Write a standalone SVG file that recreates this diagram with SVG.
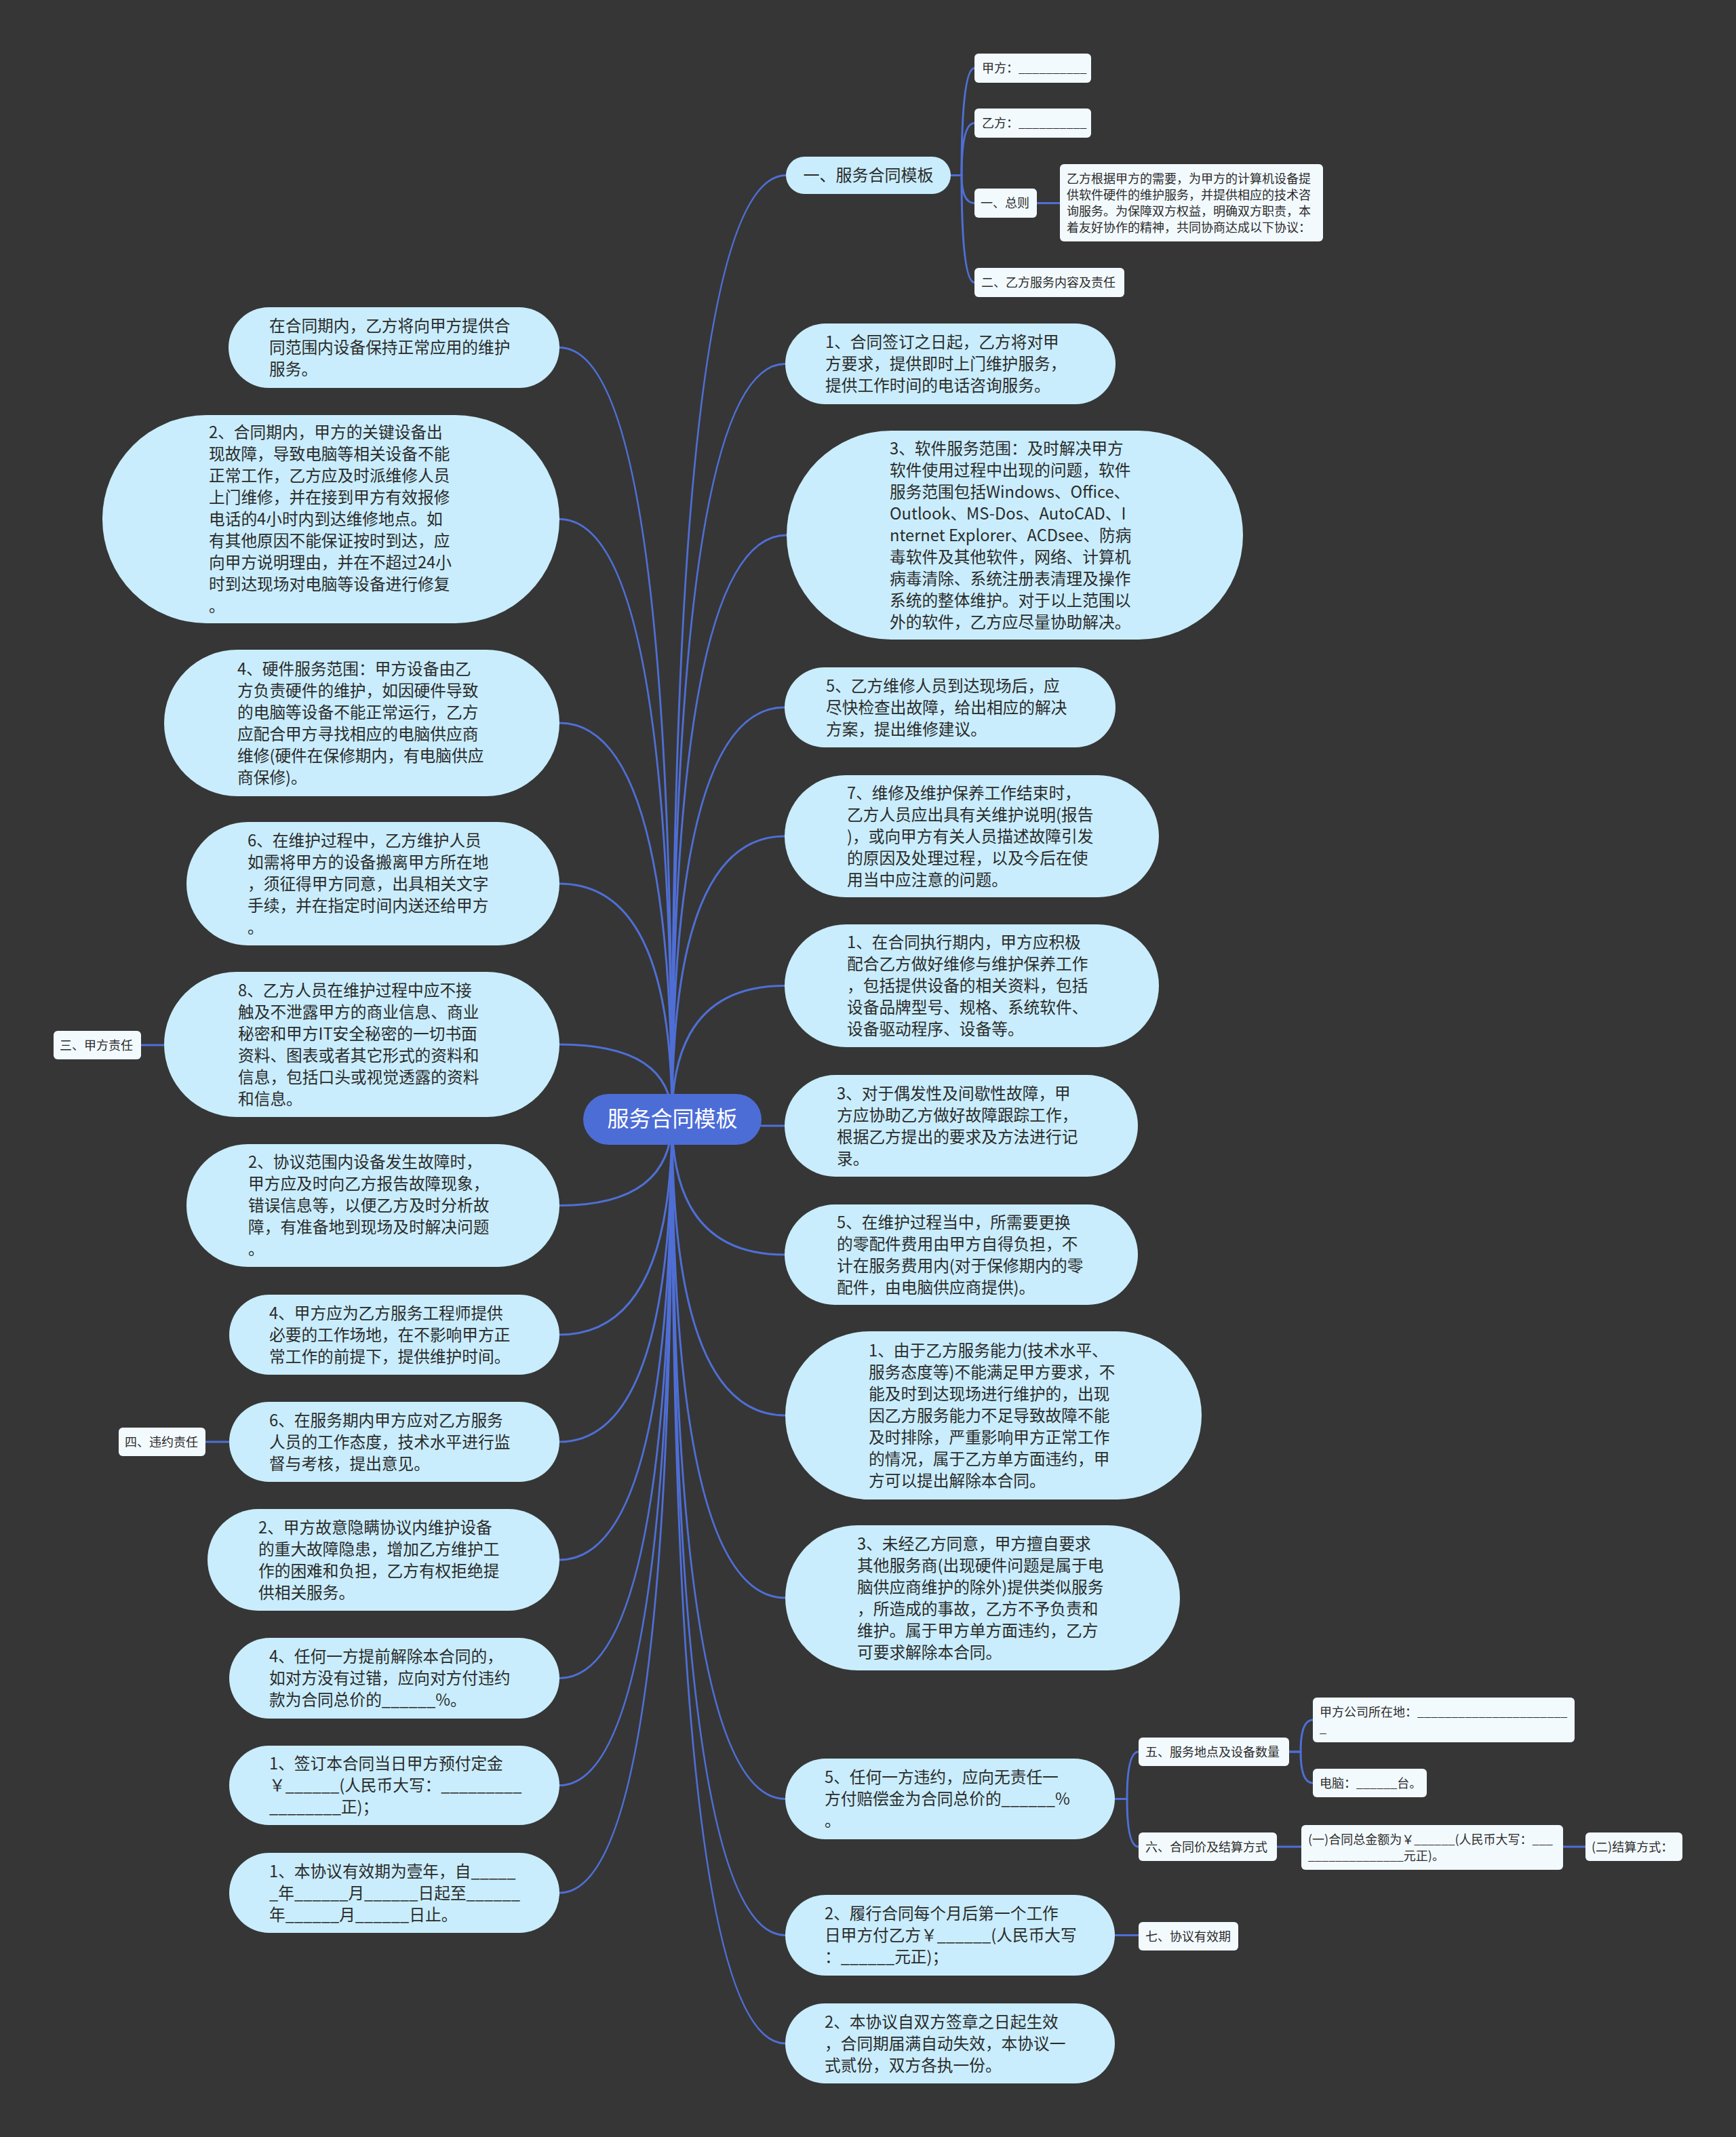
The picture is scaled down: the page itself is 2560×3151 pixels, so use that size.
<svg xmlns="http://www.w3.org/2000/svg" width="2560" height="3151" viewBox="0 0 2560 3151">
<style>
.pill{fill:#C9EDFC}
.small{fill:#F3FAFE}
.t{font-family:"Noto Sans CJK SC","Noto Sans",sans-serif;font-size:23.7px;fill:#2b2b2b}
.ts{font-family:"Noto Sans CJK SC","Noto Sans",sans-serif;font-size:18px;fill:#2b2b2b}
.ln{fill:none;stroke:#4F6FD6;stroke-width:3}
</style>
<rect x="0" y="0" width="2560" height="3151" fill="#363636"/>
<g id="connectors">
<path class="ln" d="M991 1650 Q991 258.5 1159 258.5"/>
<path class="ln" d="M991 1650 Q991 536.5 1158 536.5"/>
<path class="ln" d="M991 1650 Q991 789 1160 789"/>
<path class="ln" d="M991 1650 Q991 1043 1157 1043"/>
<path class="ln" d="M991 1650 Q991 1233 1157 1233"/>
<path class="ln" d="M991 1650 Q991 1453.5 1157 1453.5"/>
<path class="ln" d="M991 1650 Q991 1660 1157 1660"/>
<path class="ln" d="M991 1650 Q991 1850 1157 1850"/>
<path class="ln" d="M991 1650 Q991 2087 1158 2087"/>
<path class="ln" d="M991 1650 Q991 2356 1158 2356"/>
<path class="ln" d="M991 1650 Q991 2652.5 1158 2652.5"/>
<path class="ln" d="M991 1650 Q991 2853.5 1158 2853.5"/>
<path class="ln" d="M991 1650 Q991 3013 1158 3013"/>
<path class="ln" d="M991 1650 Q991 512.5 825 512.5"/>
<path class="ln" d="M991 1650 Q991 765.5 825 765.5"/>
<path class="ln" d="M991 1650 Q991 1066 825 1066"/>
<path class="ln" d="M991 1650 Q991 1303 825 1303"/>
<path class="ln" d="M991 1650 Q991 1540 825 1540"/>
<path class="ln" d="M991 1650 Q991 1777.5 825 1777.5"/>
<path class="ln" d="M991 1650 Q991 1968 825 1968"/>
<path class="ln" d="M991 1650 Q991 2126 825 2126"/>
<path class="ln" d="M991 1650 Q991 2300 825 2300"/>
<path class="ln" d="M991 1650 Q991 2474.5 825 2474.5"/>
<path class="ln" d="M991 1650 Q991 2632.5 825 2632.5"/>
<path class="ln" d="M991 1650 Q991 2791 825 2791"/>
<path class="ln" d="M1402 258.5 H1418 Q1418 100.5 1437 100.5"/>
<path class="ln" d="M1402 258.5 H1418 Q1418 181.5 1437 181.5"/>
<path class="ln" d="M1402 258.5 H1418 Q1418 299.5 1437 299.5"/>
<path class="ln" d="M1402 258.5 H1418 Q1418 416.5 1437 416.5"/>
<path class="ln" d="M1529 299.5 H1563"/>
<path class="ln" d="M1644 2652.5 H1662 Q1662 2583 1679 2583"/>
<path class="ln" d="M1644 2652.5 H1662 Q1662 2723 1679 2723"/>
<path class="ln" d="M1901 2583 H1918 Q1918 2536 1936 2536"/>
<path class="ln" d="M1901 2583 H1918 Q1918 2629 1936 2629"/>
<path class="ln" d="M1883 2723 H1919"/>
<path class="ln" d="M2305 2723 H2338"/>
<path class="ln" d="M1644 2853.5 H1679"/>
<path class="ln" d="M208 1541 H242"/>
<path class="ln" d="M303 2126 H338"/>
</g>
<g id="root">
<rect x="860" y="1613" width="263" height="75" rx="37.5" fill="#4D6DD6"/>
<text x="991.5" y="1661" text-anchor="middle" font-family="Noto Sans CJK SC, sans-serif" font-size="32" fill="#ffffff">服务合同模板</text>
</g>
<g id="r0">
<rect class="pill" x="1159" y="231" width="243" height="55" rx="27.5"/>
<text class="t" x="1280.5" y="267" text-anchor="middle" style="font-size:24px">一、服务合同模板</text>
</g>
<g id="s-jia"><rect class="small" x="1437" y="79" width="172" height="43" rx="6"/><text class="ts" x="1448" y="107">甲方：__________</text></g>
<g id="s-yi"><rect class="small" x="1437" y="160" width="172" height="43" rx="6"/><text class="ts" x="1448" y="188">乙方：__________</text></g>
<g id="s-zongze"><rect class="small" x="1437" y="278" width="92" height="43" rx="6"/><text class="ts" x="1446" y="306">一、总则</text></g>
<g id="s-zongze-text"><rect class="small" x="1563" y="242" width="388" height="114" rx="6"/>
<text class="ts" x="1573" y="269.5"><tspan x="1573">乙方根据甲方的需要，为甲方的计算机设备提</tspan><tspan x="1573" dy="24">供软件硬件的维护服务，并提供相应的技术咨</tspan><tspan x="1573" dy="24">询服务。为保障双方权益，明确双方职责，本</tspan><tspan x="1573" dy="24">着友好协作的精神，共同协商达成以下协议：</tspan></text></g>
<g id="s-er"><rect class="small" x="1437" y="395" width="221" height="43" rx="6"/><text class="ts" x="1447" y="423">二、乙方服务内容及责任</text></g>
<g id="r1"><rect class="pill" x="1158" y="477" width="487" height="119" rx="59.5"/>
<text class="t" y="513"><tspan x="1217">1、合同签订之日起，乙方将对甲</tspan><tspan x="1217" dy="32">方要求，提供即时上门维护服务，</tspan><tspan x="1217" dy="32">提供工作时间的电话咨询服务。</tspan></text></g>
<g id="r2"><rect class="pill" x="1160" y="635" width="673" height="308" rx="154"/>
<text class="t" y="669.5"><tspan x="1312">3、软件服务范围：及时解决甲方</tspan><tspan x="1312" dy="32">软件使用过程中出现的问题，软件</tspan><tspan x="1312" dy="32">服务范围包括Windows、Office、</tspan><tspan x="1312" dy="32">Outlook、MS-Dos、AutoCAD、I</tspan><tspan x="1312" dy="32">nternet Explorer、ACDsee、防病</tspan><tspan x="1312" dy="32">毒软件及其他软件，网络、计算机</tspan><tspan x="1312" dy="32">病毒清除、系统注册表清理及操作</tspan><tspan x="1312" dy="32">系统的整体维护。对于以上范围以</tspan><tspan x="1312" dy="32">外的软件，乙方应尽量协助解决。</tspan></text></g>
<g id="r3"><rect class="pill" x="1157" y="984" width="488" height="118" rx="59"/>
<text class="t" y="1019.5"><tspan x="1218">5、乙方维修人员到达现场后，应</tspan><tspan x="1218" dy="32">尽快检查出故障，给出相应的解决</tspan><tspan x="1218" dy="32">方案，提出维修建议。</tspan></text></g>
<g id="r4"><rect class="pill" x="1157" y="1143" width="552" height="180" rx="90"/>
<text class="t" y="1177.5"><tspan x="1249">7、维修及维护保养工作结束时，</tspan><tspan x="1249" dy="32">乙方人员应出具有关维护说明(报告</tspan><tspan x="1249" dy="32">)，或向甲方有关人员描述故障引发</tspan><tspan x="1249" dy="32">的原因及处理过程，以及今后在使</tspan><tspan x="1249" dy="32">用当中应注意的问题。</tspan></text></g>
<g id="r5"><rect class="pill" x="1157" y="1363" width="552" height="181" rx="90.5"/>
<text class="t" y="1398"><tspan x="1249">1、在合同执行期内，甲方应积极</tspan><tspan x="1249" dy="32">配合乙方做好维修与维护保养工作</tspan><tspan x="1249" dy="32">，包括提供设备的相关资料，包括</tspan><tspan x="1249" dy="32">设备品牌型号、规格、系统软件、</tspan><tspan x="1249" dy="32">设备驱动程序、设备等。</tspan></text></g>
<g id="r6"><rect class="pill" x="1157" y="1585" width="521" height="150" rx="75"/>
<text class="t" y="1620.5"><tspan x="1234">3、对于偶发性及间歇性故障，甲</tspan><tspan x="1234" dy="32">方应协助乙方做好故障跟踪工作，</tspan><tspan x="1234" dy="32">根据乙方提出的要求及方法进行记</tspan><tspan x="1234" dy="32">录。</tspan></text></g>
<g id="r7"><rect class="pill" x="1157" y="1776" width="521" height="148" rx="74"/>
<text class="t" y="1810.5"><tspan x="1234">5、在维护过程当中，所需要更换</tspan><tspan x="1234" dy="32">的零配件费用由甲方自得负担，不</tspan><tspan x="1234" dy="32">计在服务费用内(对于保修期内的零</tspan><tspan x="1234" dy="32">配件，由电脑供应商提供)。</tspan></text></g>
<g id="r8"><rect class="pill" x="1158" y="1963" width="614" height="248" rx="124"/>
<text class="t" y="1999.5"><tspan x="1281">1、由于乙方服务能力(技术水平、</tspan><tspan x="1281" dy="32">服务态度等)不能满足甲方要求，不</tspan><tspan x="1281" dy="32">能及时到达现场进行维护的，出现</tspan><tspan x="1281" dy="32">因乙方服务能力不足导致故障不能</tspan><tspan x="1281" dy="32">及时排除，严重影响甲方正常工作</tspan><tspan x="1281" dy="32">的情况，属于乙方单方面违约，甲</tspan><tspan x="1281" dy="32">方可以提出解除本合同。</tspan></text></g>
<g id="r9"><rect class="pill" x="1158" y="2249" width="582" height="214" rx="107"/>
<text class="t" y="2284.5"><tspan x="1264">3、未经乙方同意，甲方擅自要求</tspan><tspan x="1264" dy="32">其他服务商(出现硬件问题是属于电</tspan><tspan x="1264" dy="32">脑供应商维护的除外)提供类似服务</tspan><tspan x="1264" dy="32">，所造成的事故，乙方不予负责和</tspan><tspan x="1264" dy="32">维护。属于甲方单方面违约，乙方</tspan><tspan x="1264" dy="32">可要求解除本合同。</tspan></text></g>
<g id="r10"><rect class="pill" x="1158" y="2593" width="486" height="119" rx="59.5"/>
<text class="t" y="2629"><tspan x="1216">5、任何一方违约，应向无责任一</tspan><tspan x="1216" dy="32">方付赔偿金为合同总价的______%</tspan><tspan x="1216" dy="32">。</tspan></text></g>
<g id="s-wu"><rect class="small" x="1679" y="2562" width="222" height="42" rx="6"/><text class="ts" x="1689" y="2589.5">五、服务地点及设备数量</text></g>
<g id="s-addr"><rect class="small" x="1936" y="2503" width="386" height="66" rx="6"/>
<text class="ts" y="2530.5"><tspan x="1946">甲方公司所在地：______________________</tspan><tspan x="1946" dy="24">_</tspan></text></g>
<g id="s-pc"><rect class="small" x="1936" y="2608" width="168" height="42" rx="6"/><text class="ts" x="1946" y="2635.5">电脑：______台。</text></g>
<g id="s-liu"><rect class="small" x="1679" y="2702" width="204" height="42" rx="6"/><text class="ts" x="1689" y="2729.5">六、合同价及结算方式</text></g>
<g id="s-yi1"><rect class="small" x="1919" y="2691" width="386" height="66" rx="6"/>
<text class="ts" y="2718.5"><tspan x="1929">(一)合同总金额为￥______(人民币大写：___</tspan><tspan x="1929" dy="24">______________元正)。</tspan></text></g>
<g id="s-er2"><rect class="small" x="2338" y="2702" width="143" height="42" rx="6"/><text class="ts" x="2347" y="2729.5">(二)结算方式：</text></g>
<g id="r11"><rect class="pill" x="1158" y="2794" width="486" height="119" rx="59.5"/>
<text class="t" y="2830"><tspan x="1216">2、履行合同每个月后第一个工作</tspan><tspan x="1216" dy="32">日甲方付乙方￥______(人民币大写</tspan><tspan x="1216" dy="32">：______元正)；</tspan></text></g>
<g id="s-qi"><rect class="small" x="1679" y="2834" width="147" height="42" rx="6"/><text class="ts" x="1689" y="2861.5">七、协议有效期</text></g>
<g id="r12"><rect class="pill" x="1158" y="2954" width="486" height="118" rx="59"/>
<text class="t" y="2989.5"><tspan x="1216">2、本协议自双方签章之日起生效</tspan><tspan x="1216" dy="32">，合同期届满自动失效，本协议一</tspan><tspan x="1216" dy="32">式贰份，双方各执一份。</tspan></text></g>
<g id="l1"><rect class="pill" x="337" y="453" width="488" height="119" rx="59.5"/>
<text class="t" y="489"><tspan x="397">在合同期内，乙方将向甲方提供合</tspan><tspan x="397" dy="32">同范围内设备保持正常应用的维护</tspan><tspan x="397" dy="32">服务。</tspan></text></g>
<g id="l2"><rect class="pill" x="151" y="612" width="674" height="307" rx="153.5"/>
<text class="t" y="646"><tspan x="308">2、合同期内，甲方的关键设备出</tspan><tspan x="308" dy="32">现故障，导致电脑等相关设备不能</tspan><tspan x="308" dy="32">正常工作，乙方应及时派维修人员</tspan><tspan x="308" dy="32">上门维修，并在接到甲方有效报修</tspan><tspan x="308" dy="32">电话的4小时内到达维修地点。如</tspan><tspan x="308" dy="32">有其他原因不能保证按时到达，应</tspan><tspan x="308" dy="32">向甲方说明理由，并在不超过24小</tspan><tspan x="308" dy="32">时到达现场对电脑等设备进行修复</tspan><tspan x="308" dy="32">。</tspan></text></g>
<g id="l3"><rect class="pill" x="242" y="958" width="583" height="216" rx="108"/>
<text class="t" y="994.5"><tspan x="350">4、硬件服务范围：甲方设备由乙</tspan><tspan x="350" dy="32">方负责硬件的维护，如因硬件导致</tspan><tspan x="350" dy="32">的电脑等设备不能正常运行，乙方</tspan><tspan x="350" dy="32">应配合甲方寻找相应的电脑供应商</tspan><tspan x="350" dy="32">维修(硬件在保修期内，有电脑供应</tspan><tspan x="350" dy="32">商保修)。</tspan></text></g>
<g id="l4"><rect class="pill" x="275" y="1212" width="550" height="182" rx="91"/>
<text class="t" y="1247.5"><tspan x="365">6、在维护过程中，乙方维护人员</tspan><tspan x="365" dy="32">如需将甲方的设备搬离甲方所在地</tspan><tspan x="365" dy="32">，须征得甲方同意，出具相关文字</tspan><tspan x="365" dy="32">手续，并在指定时间内送还给甲方</tspan><tspan x="365" dy="32">。</tspan></text></g>
<g id="l5"><rect class="pill" x="242" y="1433" width="583" height="214" rx="107"/>
<text class="t" y="1468.5"><tspan x="351">8、乙方人员在维护过程中应不接</tspan><tspan x="351" dy="32">触及不泄露甲方的商业信息、商业</tspan><tspan x="351" dy="32">秘密和甲方IT安全秘密的一切书面</tspan><tspan x="351" dy="32">资料、图表或者其它形式的资料和</tspan><tspan x="351" dy="32">信息，包括口头或视觉透露的资料</tspan><tspan x="351" dy="32">和信息。</tspan></text></g>
<g id="s-san"><rect class="small" x="79" y="1520" width="129" height="42" rx="6"/><text class="ts" x="88" y="1547.5">三、甲方责任</text></g>
<g id="l6"><rect class="pill" x="275" y="1687" width="550" height="181" rx="90.5"/>
<text class="t" y="1722"><tspan x="366">2、协议范围内设备发生故障时，</tspan><tspan x="366" dy="32">甲方应及时向乙方报告故障现象，</tspan><tspan x="366" dy="32">错误信息等，以便乙方及时分析故</tspan><tspan x="366" dy="32">障，有准备地到现场及时解决问题</tspan><tspan x="366" dy="32">。</tspan></text></g>
<g id="l7"><rect class="pill" x="338" y="1909" width="487" height="118" rx="59"/>
<text class="t" y="1944.5"><tspan x="397">4、甲方应为乙方服务工程师提供</tspan><tspan x="397" dy="32">必要的工作场地，在不影响甲方正</tspan><tspan x="397" dy="32">常工作的前提下，提供维护时间。</tspan></text></g>
<g id="l8"><rect class="pill" x="338" y="2067" width="487" height="118" rx="59"/>
<text class="t" y="2102.5"><tspan x="397">6、在服务期内甲方应对乙方服务</tspan><tspan x="397" dy="32">人员的工作态度，技术水平进行监</tspan><tspan x="397" dy="32">督与考核，提出意见。</tspan></text></g>
<g id="s-si"><rect class="small" x="175" y="2105" width="128" height="42" rx="6"/><text class="ts" x="184" y="2132.5">四、违约责任</text></g>
<g id="l9"><rect class="pill" x="306" y="2225" width="519" height="150" rx="75"/>
<text class="t" y="2260.5"><tspan x="381">2、甲方故意隐瞒协议内维护设备</tspan><tspan x="381" dy="32">的重大故障隐患，增加乙方维护工</tspan><tspan x="381" dy="32">作的困难和负担，乙方有权拒绝提</tspan><tspan x="381" dy="32">供相关服务。</tspan></text></g>
<g id="l10"><rect class="pill" x="338" y="2415" width="487" height="119" rx="59.5"/>
<text class="t" y="2451"><tspan x="397">4、任何一方提前解除本合同的，</tspan><tspan x="397" dy="32">如对方没有过错，应向对方付违约</tspan><tspan x="397" dy="32">款为合同总价的______%。</tspan></text></g>
<g id="l11"><rect class="pill" x="338" y="2574" width="487" height="117" rx="58.5"/>
<text class="t" y="2609"><tspan x="397">1、签订本合同当日甲方预付定金</tspan><tspan x="397" dy="32">￥______(人民币大写：_________</tspan><tspan x="397" dy="32">________正)；</tspan></text></g>
<g id="l12"><rect class="pill" x="338" y="2732" width="487" height="118" rx="59"/>
<text class="t" y="2767.5"><tspan x="397">1、本协议有效期为壹年，自_____</tspan><tspan x="397" dy="32">_年______月______日起至______</tspan><tspan x="397" dy="32">年______月______日止。</tspan></text></g>
</svg>
